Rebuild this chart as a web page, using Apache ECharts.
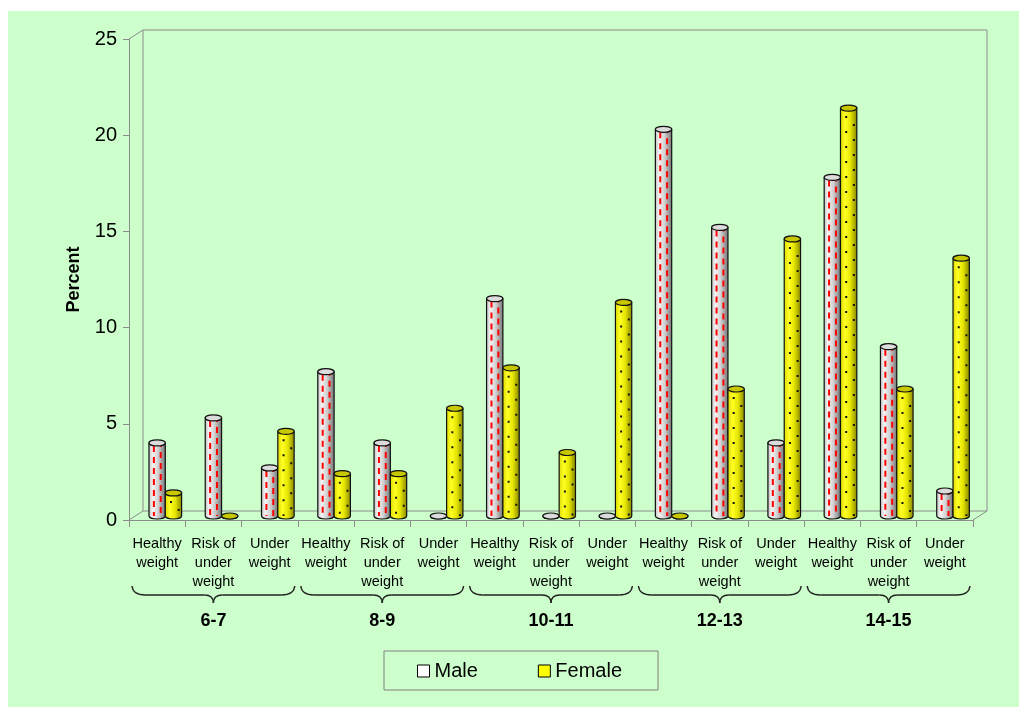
<!DOCTYPE html>
<html>
<head>
<meta charset="utf-8">
<script src="https://cdn.jsdelivr.net/npm/echarts@6/dist/echarts.min.js"></script>
<style>
  html, body { margin: 0; padding: 0; background: #ffffff; }
  #bg { position: absolute; left: 8px; top: 11px; right: 0; bottom: 0; background: #ccffcc; }
  #chart { position: absolute; left: 0; top: 0; width: 1019px; height: 707px; }
</style>
</head>
<body>
<div id="bg"></div>
<div id="chart"></div>
<script>
// category labels (bottom axis) and age groups
const categories = [
  'Healthy\nweight', 'Risk of\nunder\nweight', 'Under\nweight',
  'Healthy\nweight', 'Risk of\nunder\nweight', 'Under\nweight',
  'Healthy\nweight', 'Risk of\nunder\nweight', 'Under\nweight',
  'Healthy\nweight', 'Risk of\nunder\nweight', 'Under\nweight',
  'Healthy\nweight', 'Risk of\nunder\nweight', 'Under\nweight'
]
const groups = ['6-7', '8-9', '10-11', '12-13', '14-15']
// percent values
const male = [3.8, 5.1, 2.5, 7.5, 3.8, 0, 11.3, 0, 0, 20.1, 15.0, 3.8, 17.6, 8.8, 1.3]
const female = [1.2, 0, 4.4, 2.2, 2.2, 5.6, 7.7, 3.3, 11.1, 0, 6.6, 14.4, 21.2, 6.6, 13.4]
const yMin = 0
const yMax = 25
const yStep = 5

const FONT = '"Liberation Sans", Arial, sans-serif'
// grid edges and 3D depth shift
const L = 129, R = 973, T = 39, B = 520
const DX = 14, DY = -9

var myChart = echarts.init(document.getElementById('chart'))

function cylinder (params, api) {
  const i = api.value(0)
  const v = api.value(1)
  const p0 = api.coord([i, 0])
  const p1 = api.coord([i, v])
  const cw = api.size([1, 0])[0]
  const w = cw * 0.29
  const isMale = params.seriesIndex === 0
  const left = isMale ? p0[0] - w / 2 : p0[0] + w / 2
  const right = left + w
  const yb = p0[1] - 4
  const yt = p1[1] - 4
  const rx = w / 2
  const ry = 3
  const grad = isMale
    ? [{ offset: 0, color: '#bdbdbd' }, { offset: 0.25, color: '#f4f4f4' }, { offset: 0.55, color: '#d2d2d2' }, { offset: 1, color: '#707070' }]
    : [{ offset: 0, color: '#d9d900' }, { offset: 0.3, color: '#ffff26' }, { offset: 0.6, color: '#e6e600' }, { offset: 1, color: '#808000' }]
  const children = []
  children.push({
    type: 'path',
    shape: {
      pathData: 'M' + left + ',' + yt + ' L' + left + ',' + yb +
        ' A' + rx + ',' + ry + ' 0 0 0 ' + right + ',' + yb +
        ' L' + right + ',' + yt + ' Z'
    },
    style: {
      fill: { type: 'linear', x: 0, y: 0, x2: 1, y2: 0, colorStops: grad },
      stroke: '#111',
      lineWidth: 1.2
    }
  })
  if (yb - yt > 6) {
    if (isMale) {
      children.push({
        type: 'line',
        shape: { x1: left + w * 0.3, y1: yt + 3, x2: left + w * 0.3, y2: yb },
        style: { stroke: '#ff0000', lineWidth: 2, lineDash: [6, 5] }
      })
      children.push({
        type: 'line',
        shape: { x1: left + w * 0.72, y1: yt + 3, x2: left + w * 0.72, y2: yb },
        style: { stroke: '#ff0000', lineWidth: 2, lineDash: [6, 5], lineDashOffset: 5 }
      })
    } else {
      children.push({
        type: 'line',
        shape: { x1: left + w * 0.35, y1: yt + 8, x2: left + w * 0.35, y2: yb },
        style: { stroke: '#111', lineWidth: 2, lineDash: [2, 13] }
      })
      children.push({
        type: 'line',
        shape: { x1: left + w * 0.82, y1: yt + 8, x2: left + w * 0.82, y2: yb },
        style: { stroke: '#111', lineWidth: 2, lineDash: [2, 13], lineDashOffset: 7 }
      })
    }
  }
  children.push({
    type: 'path',
    shape: {
      pathData: 'M' + left + ',' + yt + ' A' + rx + ',' + ry + ' 0 1 0 ' + right + ',' + yt +
        ' A' + rx + ',' + ry + ' 0 1 0 ' + left + ',' + yt + ' Z'
    },
    style: {
      fill: isMale ? '#dcdcdc' : '#c8c800',
      stroke: '#111',
      lineWidth: 1.2
    }
  })
  return { type: 'group', children: children }
}

function frame () {
  const s = { stroke: '#8c8c8c', lineWidth: 1 }
  const seg = (x1, y1, x2, y2) => ({ type: 'line', shape: { x1: x1, y1: y1, x2: x2, y2: y2 }, style: s, silent: true })
  return [
    seg(L + DX, T + DY, R + DX, T + DY),
    seg(R + DX, T + DY, R + DX, B + DY),
    seg(L + DX, T + DY, L + DX, B + DY),
    seg(L + DX, B + DY, R + DX, B + DY),
    seg(L, T, L + DX, T + DY),
    seg(L, B, L + DX, B + DY),
    seg(R, B, R + DX, B + DY)
  ]
}

function braces () {
  const cw = (R - L) / categories.length
  const s = { fill: 'none', stroke: '#222', lineWidth: 1.4 }
  const out = []
  const line = (x1, y1, x2, y2) => ({ type: 'line', silent: true, shape: { x1: x1, y1: y1, x2: x2, y2: y2 }, style: s })
  const curve = (x1, y1, cx, cy, x2, y2) => ({ type: 'bezierCurve', silent: true, shape: { x1: x1, y1: y1, cpx1: cx, cpy1: cy, x2: x2, y2: y2 }, style: s })
  for (let g = 0; g < groups.length; g++) {
    const x1 = L + g * 3 * cw + 3
    const x2 = L + (g + 1) * 3 * cw - 3
    const m = (x1 + x2) / 2
    const y0 = 586, y1 = 595, y2 = 603
    out.push(curve(x1, y0, x1 + 1, y1, x1 + 13, y1))
    out.push(line(x1 + 13, y1, m - 9, y1))
    out.push(curve(m - 9, y1, m, y1, m, y2))
    out.push(curve(m, y2, m, y1, m + 9, y1))
    out.push(line(m + 9, y1, x2 - 13, y1))
    out.push(curve(x2 - 13, y1, x2 - 1, y1, x2, y0))
  }
  return out
}

var option = {
  backgroundColor: 'transparent',
  textStyle: { fontFamily: FONT },
  animation: false,
  grid: { left: L, right: 1019 - R, top: T, bottom: 707 - B, containLabel: false },
  legend: {
    left: 384,
    top: 651,
    orient: 'horizontal',
    padding: [10, 36, 9, 33],
    itemGap: 60,
    itemWidth: 12,
    itemHeight: 12,
    borderColor: '#808080',
    borderWidth: 1,
    textStyle: { fontSize: 20, color: '#000', fontFamily: FONT },
    data: [
      { name: 'Male', icon: 'rect', itemStyle: { color: '#ffffff', borderColor: '#000', borderWidth: 1 } },
      { name: 'Female', icon: 'rect', itemStyle: { color: '#ffff00', borderColor: '#000', borderWidth: 1 } }
    ]
  },
  xAxis: [
    {
      type: 'category',
      data: categories,
      boundaryGap: true,
      axisLine: { show: true, lineStyle: { color: '#8c8c8c' } },
      axisTick: { show: true, length: 7, lineStyle: { color: '#8c8c8c' } },
      axisLabel: { interval: 0, fontSize: 14.5, lineHeight: 19, color: '#000', margin: 14, fontFamily: FONT },
      splitLine: { show: false }
    },
    {
      type: 'category',
      data: groups,
      position: 'bottom',
      offset: 84,
      boundaryGap: true,
      axisLine: { show: false },
      axisTick: { show: false },
      axisLabel: { interval: 0, fontSize: 18, fontWeight: 'bold', color: '#000', margin: 8, fontFamily: FONT },
      splitLine: { show: false }
    }
  ],
  yAxis: {
    type: 'value',
    min: yMin,
    max: yMax,
    interval: yStep,
    name: 'Percent',
    nameLocation: 'middle',
    nameGap: 46,
    nameTextStyle: { fontSize: 18, fontWeight: 'bold', color: '#000', fontFamily: FONT },
    axisLine: { show: true, lineStyle: { color: '#8c8c8c' } },
    axisTick: { show: true, length: 6, lineStyle: { color: '#8c8c8c' } },
    axisLabel: { fontSize: 20, color: '#000', margin: 12, fontFamily: FONT },
    splitLine: { show: false }
  },
  graphic: frame().concat(braces()),
  series: [
    {
      name: 'Male',
      type: 'custom',
      xAxisIndex: 0,
      yAxisIndex: 0,
      itemStyle: { color: '#ffffff' },
      renderItem: cylinder,
      data: male.map((v, i) => [i, v])
    },
    {
      name: 'Female',
      type: 'custom',
      xAxisIndex: 0,
      yAxisIndex: 0,
      itemStyle: { color: '#ffff00' },
      renderItem: cylinder,
      data: female.map((v, i) => [i, v])
    }
  ]
}
myChart.setOption(option)
</script>
</body>
</html>
